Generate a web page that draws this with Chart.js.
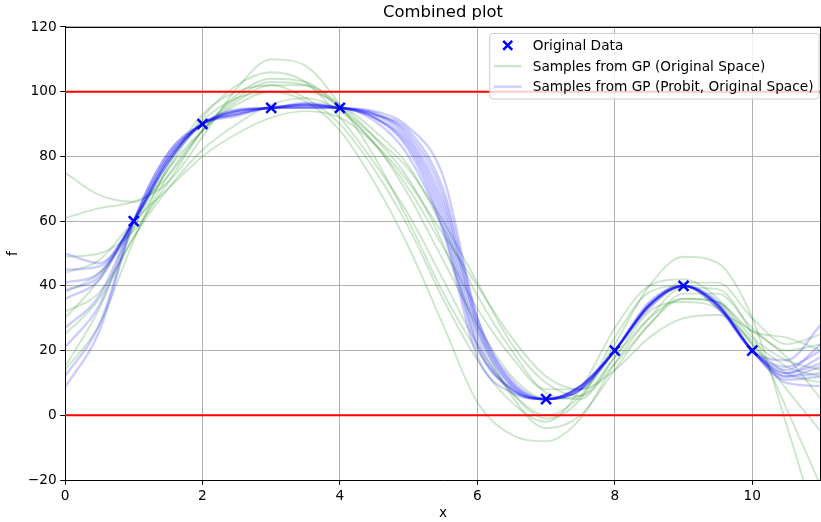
<!DOCTYPE html>
<html>
<head>
<meta charset="utf-8">
<script src="https://cdn.jsdelivr.net/npm/chart.js"></script>
<style>
  html, body { margin: 0; padding: 0; background: #fff; }
  #wrap { width: 821px; height: 522px; }
</style>
</head>
<body>
<div id="wrap"><canvas id="chart" width="821" height="522"></canvas></div>
<script>
// sample grid (x positions the curves were read at)
const xs = [0, 0.5, 1, 1.5, 2, 2.5, 3, 3.5, 4, 4.5, 5, 5.5, 6, 6.5, 7, 7.5, 8, 8.5, 9, 9.5, 10, 10.5, 11];

// observed points
const obsX = [1, 2, 3, 4, 7, 8, 9, 10];
const obsY = [60, 90, 95, 95, 5, 20, 40, 20];

// constraint lines
const bounds = [0, 100];

// GP samples, original space (green)
const green1 = [75, 68, 66, 74, 88, 99, 104, 103, 95, 84, 70, 52, 33, 18, 8, 8, 20, 34, 41, 41, 30, 22, 25];
const green2 = [61, 64, 66, 72, 86, 101, 110, 108, 96, 80, 60, 38, 20, 7, 0, 6, 22, 40, 49, 47, 30, -3, -38];
const green3 = [49, 50, 57, 72, 88, 98, 103, 102, 95, 86, 76, 60, 41, 22, 10, 6, 16, 28, 37.6, 37.6, 27, 20, 22];
const green4 = [38, 44, 58, 76, 92, 102, 106, 103, 92, 78, 62, 42, 22, 7, -1, 5, 24, 38, 40, 33, 22, 8, -5];
const green5 = [32, 38, 55, 74, 88, 97, 102, 102, 96, 86, 73, 53, 26, 6, -4, 0, 14, 28, 36, 35, 24, 17, 14];
const green6 = [30, 42, 60, 76, 88, 96, 100, 100, 96, 88, 77, 58, 37, 20, 7, 5, 18, 30, 36, 35, 26, 24, 20];
const green7 = [15, 33, 58, 78, 91, 98, 100, 97, 88, 72, 52, 28, 4, -6, -8, -1, 16, 30, 39.5, 39, 25, 2, -22];
const green8 = [14, 28, 54, 77, 93, 100, 102, 98, 90, 76, 58, 36, 17, 4, -2, 8, 27, 40, 42, 36, 22, 13, 10];
const green9 = [44, 48, 60, 70, 80, 87, 92, 94, 92, 84, 72, 56, 40, 24, 12, 8, 14, 24, 30, 31, 26, 18, 5];
const green10 = [25, 36, 55, 70, 82, 90, 96, 98, 94, 84, 68, 48, 28, 12, 5, 6, 18, 32, 35, 33, 23, 15, 12];

// GP samples, probit model mapped back to original space (blue)
const blue1 = [50, 47, 60, 79, 90, 94, 95, 96, 95, 93.5, 86, 66, 28, 9, 5, 9, 20, 34, 40, 34, 20, 17, 28];
const blue2 = [45, 46, 60, 79, 90, 93, 95, 95, 95, 93, 88, 70, 30, 10, 5, 8, 20, 33.5, 40, 34.5, 20, 14, 22];
const blue3 = [41, 44, 60, 78, 90, 94.5, 95, 96.5, 95, 92, 84, 62, 24, 8, 5, 9, 20, 34.5, 40, 33.5, 20, 13, 18];
const blue4 = [38.6, 43, 60, 78, 90, 93, 95, 95.2, 95, 92, 82, 58, 21, 8, 5, 9, 20, 34, 40, 34, 20, 12, 15];
const blue5 = [36, 42, 60, 79, 90, 93.8, 95, 95.8, 95, 93, 85, 64, 26, 9, 5, 8, 20, 33, 40, 35, 20, 11, 12];
const blue6 = [27, 37, 60, 80, 90, 92.5, 95, 95, 95, 91, 80, 57, 18, 7, 5, 9, 20, 34, 40, 34, 20, 10, 9];
const blue7 = [21, 34, 60, 80, 90, 94, 95, 96.2, 95, 93, 87, 68, 28, 10, 5, 8, 20, 35, 40, 33, 20, 12, 13];
const blue8 = [12, 28, 60, 81, 90, 93.2, 95, 95.5, 95, 92, 83, 60, 22, 8, 5, 9, 20, 34, 40, 34, 20, 13, 16];
const blue9 = [8.6, 26, 60, 81, 90, 94.2, 95, 96, 95, 94, 89, 74, 30, 11, 5, 8, 20, 34, 40, 34, 20, 15, 20];

// ticks
const xTicks = [0, 2, 4, 6, 8, 10];
const yTicks = [-20, 0, 20, 40, 60, 80, 100, 120];

const greens = [green1, green2, green3, green4, green5, green6, green7, green8, green9, green10];
const blues = [blue1, blue2, blue3, blue4, blue5, blue6, blue7, blue8, blue9];

const GREEN = "rgba(0, 128, 0, 0.2)";
const BLUE = "rgba(0, 0, 255, 0.2)";
const FONT = "'DejaVu Sans', sans-serif";
const FS = 13.7;

Chart.defaults.color = "#000";
Chart.defaults.font.family = FONT;

function sampleSet(values, color, width, order) {
  return {
    data: values.map((y, i) => ({ x: xs[i], y: y })),
    borderColor: color,
    borderWidth: width,
    pointRadius: 0,
    fill: false,
    cubicInterpolationMode: "monotone",
    order: order,
  };
}

const datasets = [];
datasets.push({
  label: "Original Data",
  data: obsX.map((x, i) => ({ x: x, y: obsY[i] })),
  showLine: false,
  pointStyle: "crossRot",
  pointRadius: 7,
  pointBorderWidth: 2.5,
  pointBorderColor: "#0000ff",
  pointBackgroundColor: "#0000ff",
  order: 0,
});
bounds.forEach((b) => {
  datasets.push({
    data: [{ x: xs[0], y: b }, { x: xs[xs.length - 1], y: b }],
    borderColor: "#ff0000",
    borderWidth: 1.9,
    pointRadius: 0,
    order: 1,
  });
});
greens.forEach((g) => datasets.push(sampleSet(g, GREEN, 1.9, 3)));
blues.forEach((b) => datasets.push(sampleSet(b, BLUE, 2.4, 2)));

// matplotlib-style legend inside the axes + top/right spines
const boxLegend = {
  id: "boxLegend",
  afterDraw(chart) {
    const ctx = chart.ctx;
    const area = chart.chartArea;
    ctx.save();
    ctx.strokeStyle = "#000";
    ctx.lineWidth = 1;
    ctx.beginPath();
    ctx.moveTo(area.left, area.top + 0.5);
    ctx.lineTo(area.right, area.top + 0.5);
    ctx.moveTo(area.right - 0.5, area.top);
    ctx.lineTo(area.right - 0.5, area.bottom);
    ctx.stroke();

    const items = [
      { text: "Original Data", kind: "marker" },
      { text: "Samples from GP (Original Space)", kind: "line", color: GREEN },
      { text: "Samples from GP (Probit, Original Space)", kind: "line", color: BLUE },
    ];
    ctx.font = FS + "px " + FONT;
    let maxW = 0;
    items.forEach((it) => { maxW = Math.max(maxW, ctx.measureText(it.text).width); });
    const w = 4.5 + 28 + 11 + maxW + 5;
    const h = 65.5;
    const x0 = area.right - 2.5 - w;
    const y0 = area.top + 6;
    ctx.beginPath();
    ctx.roundRect(x0 + 0.5, y0 + 0.5, w, h, 3);
    ctx.fillStyle = "rgba(255,255,255,0.8)";
    ctx.fill();
    ctx.strokeStyle = "#cccccc";
    ctx.stroke();
    ctx.textBaseline = "middle";
    items.forEach((it, i) => {
      const cy = y0 + 12.5 + i * 20.6;
      const hx = x0 + 4.5;
      if (it.kind === "marker") {
        const cx = hx + 14, r = 4.5;
        ctx.strokeStyle = "#0000ff";
        ctx.lineWidth = 2.5;
        ctx.beginPath();
        ctx.moveTo(cx - r, cy - r); ctx.lineTo(cx + r, cy + r);
        ctx.moveTo(cx - r, cy + r); ctx.lineTo(cx + r, cy - r);
        ctx.stroke();
      } else {
        ctx.strokeStyle = it.color;
        ctx.lineWidth = 2.2;
        ctx.beginPath();
        ctx.moveTo(hx, cy); ctx.lineTo(hx + 28, cy);
        ctx.stroke();
      }
      ctx.fillStyle = "#000";
      ctx.fillText(it.text, hx + 28 + 11, cy + 1);
    });
    ctx.restore();
  },
};

const ctx = document.getElementById("chart").getContext("2d");
const chart = new Chart(ctx, {
  type: "line",
  data: { datasets: datasets },
  plugins: [boxLegend],
  options: {
    responsive: false,
    animation: false,
    events: [],
    devicePixelRatio: 1,
    layout: { padding: 0, autoPadding: false },
    scales: {
      x: {
        type: "linear",
        min: 0,
        max: 11,
        afterBuildTicks: (scale) => { scale.ticks = xTicks.map((v) => ({ value: v })); },
        afterFit: (scale) => {
          scale.height = 42;
          scale.paddingRight = 0;
          scale.paddingLeft = 0;
        },
        grid: { color: "#b0b0b0", lineWidth: 1, tickColor: "#000", tickLength: 4.8 },
        border: { color: "#000", width: 1 },
        ticks: { font: { size: FS }, padding: 3, maxRotation: 0 },
        title: { display: true, text: "x", font: { size: FS }, padding: { top: 0, bottom: 0 } },
      },
      y: {
        type: "linear",
        min: -20,
        max: 120,
        afterBuildTicks: (scale) => { scale.ticks = yTicks.map((v) => ({ value: v })); },
        afterFit: (scale) => { scale.width = 65; },
        grid: { color: "#b0b0b0", lineWidth: 1, tickColor: "#000", tickLength: 4.8 },
        border: { color: "#000", width: 1 },
        ticks: {
          font: { size: FS },
          padding: 3.5,
          callback: (v) => String(v).replace("-", "\u2212"),
        },
        title: { display: true, text: "f", font: { size: FS }, padding: { top: 5, bottom: 0 } },
      },
    },
    plugins: {
      legend: { display: false },
      tooltip: { enabled: false },
      title: {
        display: true,
        fullSize: false,
        text: "Combined plot",
        font: { size: 16.4, weight: "normal" },
        padding: { top: 3, bottom: 4.3 },
      },
    },
  },
});
</script>
</body>
</html>
